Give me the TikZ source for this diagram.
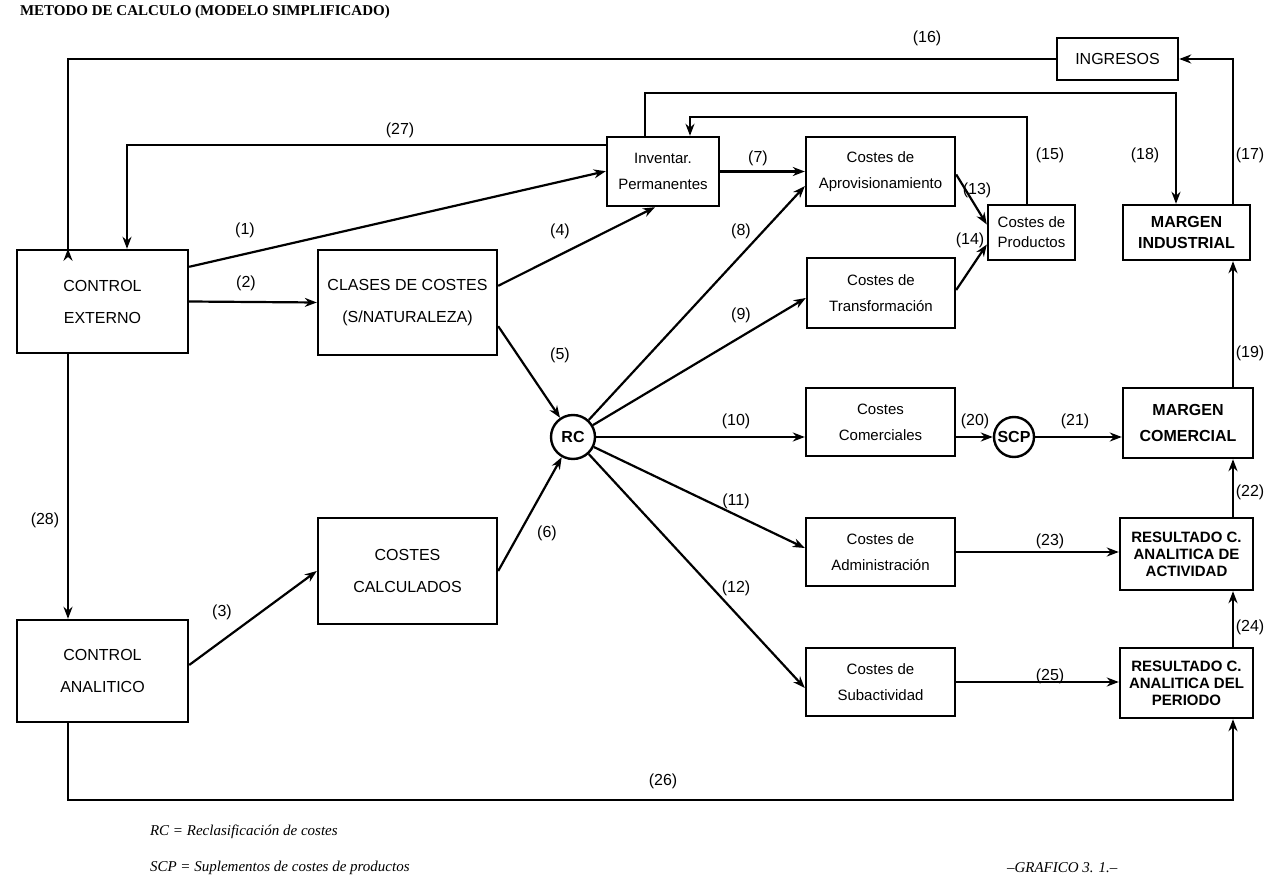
\documentclass[tikz,border=0pt]{standalone}
\usepackage{fontspec}
\setmainfont{Liberation Serif}
\setsansfont{Liberation Sans}
\usetikzlibrary{arrows.meta,calc}
\begin{document}
\begin{tikzpicture}[x=0.5pt,y=-0.5pt,
  box/.style={draw,line width=1.2pt,align=center,font=\sffamily\fontsize{7.5}{13}\selectfont,inner sep=0pt},
  bbox/.style={box,font=\sffamily\fontsize{8}{13}\selectfont},
  cir/.style={draw,circle,line width=1.2pt,font=\sffamily\bfseries\fontsize{8}{9}\selectfont,inner sep=0pt},
  ar/.style={line width=1.1pt,-{Stealth[length=6pt,width=4.5pt]}},
  lb/.style={font=\sffamily\fontsize{8}{9}\selectfont,inner sep=1pt}]
\useasboundingbox (0,0) rectangle (1280,887);
\node[anchor=west,font=\rmfamily\bfseries\fontsize{7.5}{9}\selectfont] (title) at (13,12) {METODO DE CALCULO (MODELO SIMPLIFICADO)};
% boxes
\node[bbox,minimum width=60.5pt,minimum height=21pt] (ing) at (1117.5,59) {INGRESOS};
\node[box,minimum width=56pt,minimum height=34.5pt] (inv) at (663,171.5) {Inventar.\\Permanentes};
\node[box,minimum width=74.5pt,minimum height=34.5pt] (apr) at (880.5,171.5) {Costes de\\Aprovisionamiento};
\node[box,minimum width=43.5pt,minimum height=27.5pt,font=\sffamily\fontsize{7.5}{10}\selectfont] (prod) at (1031.5,232.5) {Costes de\\Productos};
\node[bbox,minimum width=63.5pt,minimum height=27.5pt,font=\sffamily\bfseries\fontsize{8}{10.5}\selectfont] (mi) at (1186.5,232.5) {MARGEN\\INDUSTRIAL};
\node[box,minimum width=74pt,minimum height=35pt] (tra) at (881,293) {Costes de\\Transformación};
\node[bbox,minimum width=85.5pt,minimum height=51.5pt,font=\sffamily\fontsize{8}{16}\selectfont] (ce) at (102.5,301.5) {CONTROL\\EXTERNO};
\node[bbox,minimum width=89.5pt,minimum height=52.5pt,font=\sffamily\fontsize{8}{16}\selectfont] (cla) at (407.5,302.5) {CLASES DE COSTES\\(S/NATURALEZA)};
\node[cir,minimum size=22pt] (rc) at (573,437) {RC};
\node[box,minimum width=74.5pt,minimum height=34pt] (com) at (880.5,422) {Costes\\Comerciales};
\node[cir,minimum size=20pt] (scp) at (1014,437) {SCP};
\node[bbox,minimum width=65pt,minimum height=35pt,font=\sffamily\bfseries\fontsize{8}{13}\selectfont] (mc) at (1188,423) {MARGEN\\COMERCIAL};
\node[bbox,minimum width=89.5pt,minimum height=53pt,font=\sffamily\fontsize{8}{16}\selectfont] (cal) at (407.5,571) {COSTES\\CALCULADOS};
\node[box,minimum width=74.5pt,minimum height=34pt] (adm) at (880.5,552) {Costes de\\Administración};
\node[bbox,minimum width=66.5pt,minimum height=36pt,font=\sffamily\bfseries\fontsize{7.5}{8.5}\selectfont] (act) at (1186.5,554) {RESULTADO C.\\ANALITICA DE\\ACTIVIDAD};
\node[bbox,minimum width=85.5pt,minimum height=51pt,font=\sffamily\fontsize{8}{16}\selectfont] (ca) at (102.5,671) {CONTROL\\ANALITICO};
\node[box,minimum width=74.5pt,minimum height=34pt] (sub) at (880.5,682) {Costes de\\Subactividad};
\node[bbox,minimum width=66.5pt,minimum height=35pt,font=\sffamily\bfseries\fontsize{7.5}{8.5}\selectfont] (per) at (1186.5,683) {RESULTADO C.\\ANALITICA DEL\\PERIODO};
% connectors
\draw[ar] (ing.west) -| (68,250) -- (ce.north -| 68,0);
\draw[ar] (mi.north -| 1233,0) |- (ing.east);
\draw[ar] (inv.north -| 645,0) |- (1176,93) -- (mi.north -| 1176,0);
\draw[ar] (prod.north -| 1027,0) |- (690,117) -- (inv.north -| 690,0);
\draw[ar] (inv.west |- 0,145) -| (ce.north -| 127,0);
\draw[ar] ($(ce.north east)+(0,18)$) -- ($(inv.south west)+(0,-36)$);
\draw[ar] (ce.east) -- (cla.west);
\draw[ar] ($(cla.north east)+(0,37)$) -- (inv.south -| 655,0);
\draw[ar] ($(cla.south east)+(0,-30)$) -- (rc);
\draw[ar] (inv.east) -- (apr.west);
\draw[ar] (rc) -- ($(apr.south west)+(0,-21)$);
\draw[ar] (rc) -- ($(tra.west)+(0,5)$);
\draw[ar] (rc) -- (rc.east -| com.west);
\draw[ar] (rc) -- ($(adm.west)+(0,-4)$);
\draw[ar] (rc) -- ($(sub.west)+(0,6)$);
\draw[ar] ($(apr.east)+(0,3)$) -- ($(prod.west)+(0,-8)$);
\draw[ar] ($(tra.east)+(0,-3)$) -- ($(prod.west)+(0,12)$);
\draw[ar] (com.east |- scp) -- (scp);
\draw[ar] (scp) -- (scp -| mc.west);
\draw[ar] (mc.north -| 1233,0) -- (mi.south -| 1233,0);
\draw[ar] (act.north -| 1233,0) -- (mc.south -| 1233,0);
\draw[ar] (adm.east) -- (adm.east -| act.west);
\draw[ar] (per.north -| 1233,0) -- (act.south -| 1233,0);
\draw[ar] (sub.east) -- (sub.east -| per.west);
\draw[ar] (ca.south -| 68,0) |- (1233,800) -- (per.south -| 1233,0);
\draw[ar] (ce.south -| 68,0) -- (ca.north -| 68,0);
\draw[ar] ($(ca.east)+(0,-6)$) -- (cal.west);
\draw[ar] (cal.east) -- (rc);
% labels
\node[lb] (l16) at (927,38) {(16)};
\node[lb] (l17) at (1250,155) {(17)};
\node[lb] (l18) at (1145,155) {(18)};
\node[lb] (l15) at (1050,155) {(15)};
\node[lb] (l27) at (400,130) {(27)};
\node[lb] (l1) at (245,230) {(1)};
\node[lb] (l2) at (246,283) {(2)};
\node[lb] (l4) at (560,231) {(4)};
\node[lb] (l5) at (560,355) {(5)};
\node[lb] (l7) at (758,158) {(7)};
\node[lb] (l8) at (741,231) {(8)};
\node[lb] (l9) at (741,315) {(9)};
\node[lb] (l10) at (736,421) {(10)};
\node[lb] (l11) at (736,501) {(11)};
\node[lb] (l12) at (736,588) {(12)};
\node[lb] (l13) at (977,190) {(13)};
\node[lb] (l14) at (970,240) {(14)};
\node[lb] (l20) at (975,421) {(20)};
\node[lb] (l21) at (1075,421) {(21)};
\node[lb] (l19) at (1250,353) {(19)};
\node[lb] (l22) at (1250,492) {(22)};
\node[lb] (l23) at (1050,541) {(23)};
\node[lb] (l24) at (1250,627) {(24)};
\node[lb] (l25) at (1050,676) {(25)};
\node[lb] (l26) at (663,781) {(26)};
\node[lb] (l28) at (45,520) {(28)};
\node[lb] (l3) at (222,612) {(3)};
\node[lb] (l6) at (547,533) {(6)};
% footer
\node[anchor=west,font=\rmfamily\itshape\fontsize{7.5}{9}\selectfont] (f1) at (143,832) {RC = Reclasificación de costes};
\node[anchor=west,font=\rmfamily\itshape\fontsize{7.5}{9}\selectfont] (f2) at (143,868) {SCP = Suplementos de costes de productos};
\node[anchor=west,font=\rmfamily\itshape\fontsize{7.5}{9}\selectfont] (f3) at (1000,868) {--GRAFICO 3. 1.--};
\end{tikzpicture}
\end{document}
